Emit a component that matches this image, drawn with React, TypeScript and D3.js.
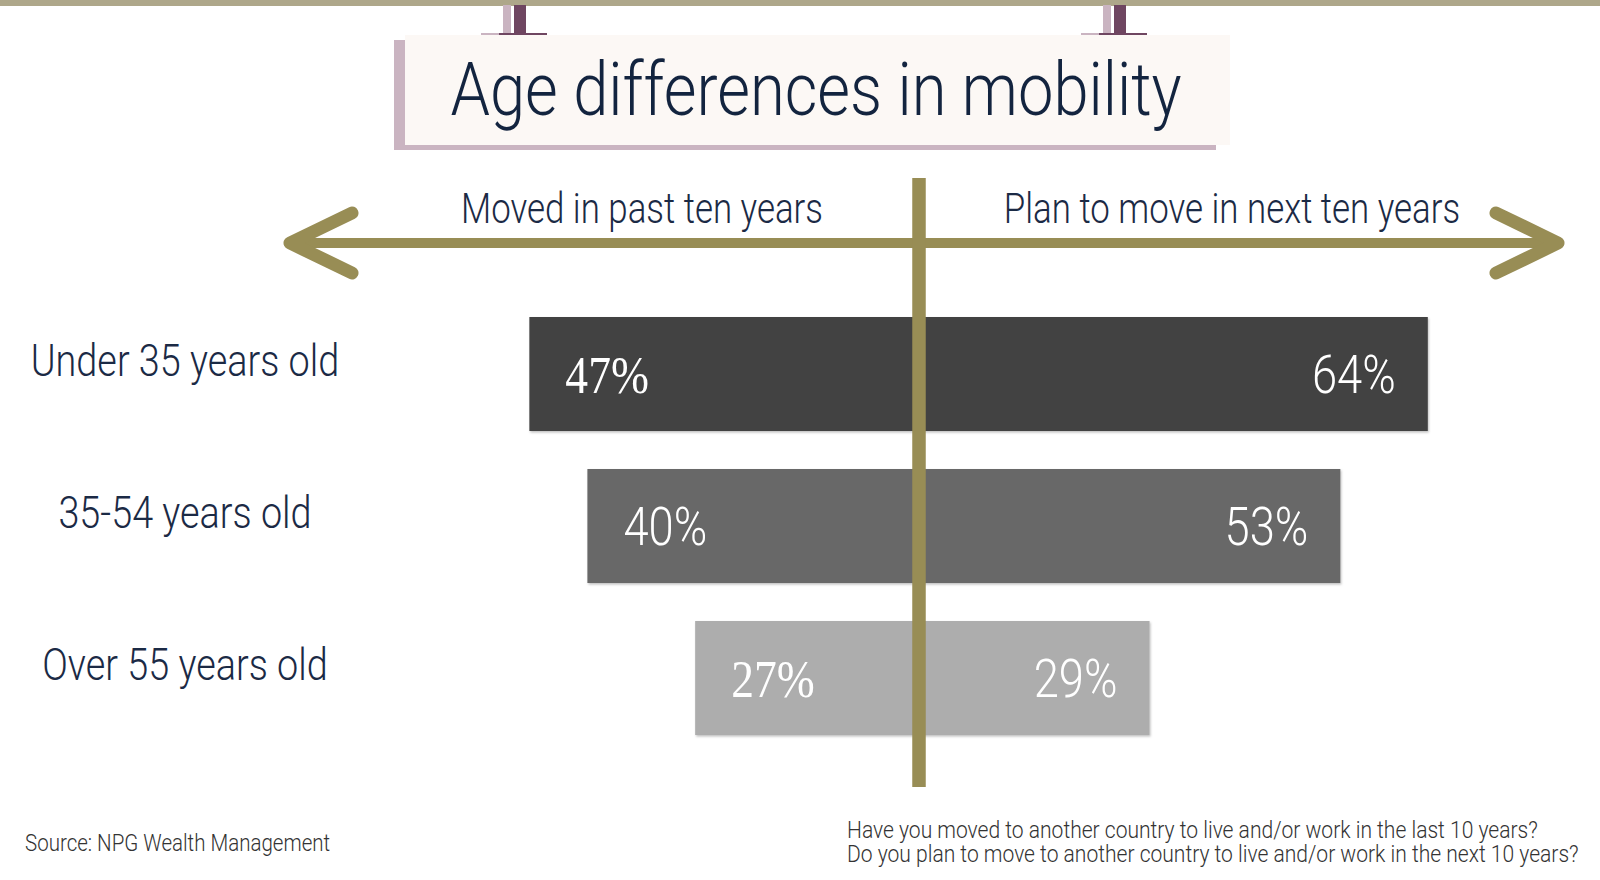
import React from "react";
import * as d3 from "d3";

const categories = ["Under 35 years old", "35-54 years old", "Over 55 years old"];
const movedPast = [47, 40, 27];
const planNext = [64, 53, 29];
const barColors = ["#424242", "#676767", "#adadad"];
const leftSerif = true;

const W = 1600;
const H = 880;
const SX = 0.84;
const SANS = "Roboto, 'Noto Sans', sans-serif";
const SERIF = "'Liberation Serif', 'DejaVu Serif', serif";
const NAVY = "#1b2a45";
const OLIVE = "#988d55";
const DARKP = "#6f4661";
const LIGHTP = "#cab4c1";

function CT(props: any) {
  const { x, y, anchor = "start", size, fill = NAVY, family = SANS, weight = 300, sx = SX, children } = props;
  return (
    <text
      transform={`translate(${x},${y}) scale(${sx},1)`}
      textAnchor={anchor}
      fontFamily={family}
      fontWeight={weight}
      fontSize={size}
      fill={fill}
    >
      {children}
    </text>
  );
}

export default function App() {
  const cx = 919;
  const y = d3.scaleBand<string>().domain(categories).range([317, 735]).paddingInner(0.25).paddingOuter(0);
  const xLeft = d3.scaleLinear().domain([0, 100]).range([cx, cx - 829]);
  const xRight = d3.scaleLinear().domain([0, 100]).range([cx, cx + 795]);
  const hangers = [520, 1120];
  return (
    <svg width={W} height={H} style={{ position: "absolute", left: 0, top: 0, background: "#fff" }}>
      <defs>
        <filter id="sh" x="-5%" y="-10%" width="110%" height="130%">
          <feDropShadow dx="1" dy="1.5" stdDeviation="1" floodColor="#000" floodOpacity="0.25" />
        </filter>
      </defs>
      {/* top band */}
      <rect x={0} y={0} width={W} height={6} fill="#aea78a" />
      {/* hangers */}
      {hangers.map((hx, i) => (
        <g key={i}>
          <rect x={hx - 17} y={5} width={8} height={29} fill={LIGHTP} />
          <rect x={hx - 39} y={33} width={20} height={3} fill={LIGHTP} />
          <rect x={hx - 6} y={5} width={12} height={31} fill={DARKP} />
          <rect x={hx - 21} y={33} width={48} height={7} fill={DARKP} />
        </g>
      ))}
      {/* title box */}
      <rect x={394} y={40} width={822} height={110} fill={LIGHTP} />
      <rect x={405} y={35} width={825} height={110} fill="#fcf8f5" />
      <CT x={816} y={115} anchor="middle" size={74} sx={0.855} fill="#13243f">
        Age differences in mobility
      </CT>

      {/* bars */}
      {categories.map((c, i) => (
        <g key={c} filter="url(#sh)">
          <rect x={xLeft(movedPast[i])} y={y(c)} width={cx - xLeft(movedPast[i])} height={y.bandwidth()} fill={barColors[i]} />
          <rect x={cx} y={y(c)} width={xRight(planNext[i]) - cx} height={y.bandwidth()} fill={barColors[i]} />
        </g>
      ))}
      {categories.map((c, i) => {
        const yc = (y(c) as number) + y.bandwidth() / 2;
        return (
          <g key={c + "t"}>
            <CT
              x={xLeft(movedPast[i]) + 36}
              y={yc + 19}
              size={leftSerif && i !== 1 ? 53 : 54}
              family={leftSerif && i !== 1 ? SERIF : SANS}
              weight={leftSerif && i !== 1 ? 400 : 300}
              sx={leftSerif && i !== 1 ? 0.86 : SX}
              fill="#fff"
            >
              {movedPast[i]}%
            </CT>
            <CT x={xRight(planNext[i]) - 32} y={yc + 19} anchor="end" size={54} fill="#fff">
              {planNext[i]}%
            </CT>
            <CT x={185} y={yc + 2} anchor="middle" size={45}>
              {c}
            </CT>
          </g>
        );
      })}

      {/* arrows */}
      <line x1={290} x2={1558} y1={243} y2={243} stroke={OLIVE} strokeWidth={10} />
      <polyline points="352,213 290,243 352,273" fill="none" stroke={OLIVE} strokeWidth={13} strokeLinecap="round" strokeLinejoin="round" />
      <polyline points="1496,213 1558,243 1496,273" fill="none" stroke={OLIVE} strokeWidth={13} strokeLinecap="round" strokeLinejoin="round" />
      <line x1={cx} x2={cx} y1={178} y2={787} stroke={OLIVE} strokeWidth={13.5} />

      <CT x={642} y={223} anchor="middle" size={42} sx={0.83}>Moved in past ten years</CT>
      <CT x={1232} y={223} anchor="middle" size={42} sx={0.83}>Plan to move in next ten years</CT>

      {/* footer */}
      <CT x={25} y={851} size={24} sx={0.855} fill="#333">Source: NPG Wealth Management</CT>
      <CT x={847} y={838} size={23} sx={0.915} fill="#333">Have you moved to another country to live and/or work in the last 10 years?</CT>
      <CT x={847} y={862} size={23} sx={0.915} fill="#333">Do you plan to move to another country to live and/or work in the next 10 years?</CT>
    </svg>
  );
}
